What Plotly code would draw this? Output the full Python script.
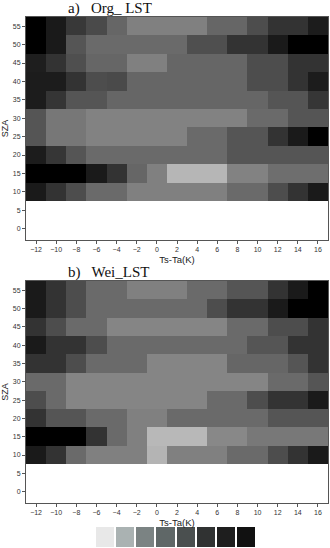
import plotly.graph_objects as go

# Ts-Ta (K) bin centres and SZA bin centres
ts_ta = [-12, -10, -8, -6, -4, -2, 0, 2, 4, 6, 8, 10, 12, 14, 16]
sza = [55, 50, 45, 40, 35, 30, 25, 20, 15, 10]

# grey shade (0 = black, 255 = white) read from each cell, rows follow `sza`
org_lst = [
    [0, 26, 56, 74, 102, 128, 128, 128, 128, 102, 102, 77, 51, 51, 28],
    [0, 26, 85, 106, 106, 106, 106, 106, 79, 79, 51, 51, 26, 0, 0],
    [30, 51, 79, 102, 102, 128, 128, 102, 102, 102, 102, 77, 77, 51, 51],
    [28, 28, 51, 77, 74, 102, 102, 102, 102, 102, 102, 77, 77, 51, 28],
    [28, 53, 85, 85, 102, 102, 102, 102, 102, 102, 102, 102, 85, 85, 54],
    [85, 119, 119, 130, 130, 130, 130, 130, 130, 130, 130, 106, 106, 85, 85],
    [85, 119, 119, 130, 130, 130, 130, 130, 106, 106, 85, 85, 51, 26, 0],
    [28, 54, 85, 106, 106, 106, 106, 106, 106, 106, 85, 85, 85, 85, 85],
    [0, 0, 0, 26, 51, 102, 128, 182, 182, 182, 130, 130, 110, 110, 110],
    [26, 51, 77, 106, 106, 128, 128, 128, 128, 128, 106, 106, 77, 51, 26],
]
wei_lst = [
    [26, 51, 77, 106, 106, 128, 128, 128, 106, 106, 85, 85, 51, 26, 0],
    [26, 51, 77, 106, 106, 106, 106, 106, 106, 77, 51, 51, 26, 0, 0],
    [51, 77, 106, 106, 133, 133, 133, 133, 133, 133, 106, 106, 77, 77, 51],
    [26, 51, 51, 77, 106, 106, 106, 106, 106, 106, 106, 85, 85, 51, 51],
    [51, 51, 77, 106, 106, 106, 133, 133, 133, 133, 102, 102, 102, 85, 51],
    [106, 106, 133, 133, 133, 133, 133, 133, 133, 133, 133, 133, 106, 106, 85],
    [77, 106, 133, 133, 133, 133, 133, 133, 133, 106, 106, 77, 51, 51, 26],
    [51, 85, 85, 106, 106, 128, 128, 106, 106, 106, 106, 106, 85, 85, 85],
    [0, 0, 0, 51, 106, 128, 184, 184, 184, 136, 136, 120, 120, 120, 120],
    [26, 51, 106, 128, 128, 128, 180, 128, 128, 128, 106, 106, 77, 51, 26],
]

x_ticks = [-12, -10, -8, -6, -4, -2, 0, 2, 4, 6, 8, 10, 12, 14, 16]
y_ticks = [0, 5, 10, 15, 20, 25, 30, 35, 40, 45, 50, 55]

legend_levels = [0, 1, 2, 3, 4, 5, 6, 7]
legend_colors = ["#e8e8e8", "#aab2b2", "#7b8383", "#5f6767",
                 "#4a4f4f", "#303232", "#1e1e1e", "#111111"]

titles = ["a)   Org_ LST", "b)   Wei_LST"]

W, H = 330, 548
def px_x(a, b):
    return [a / W, b / W]
def px_y(top, bottom):
    return [1 - bottom / H, 1 - top / H]

fig = go.Figure()
gray = [[0, "#000000"], [1, "#ffffff"]]

panels = [(org_lst, "x", "y", px_y(17, 240)), (wei_lst, "x2", "y2", px_y(281, 503))]
for i, (z, xa, ya, dom) in enumerate(panels):
    fig.add_trace(go.Heatmap(x=ts_ta, y=sza, z=z, xaxis=xa, yaxis=ya,
                             colorscale=gray, zmin=0, zmax=255,
                             showscale=False, hoverinfo="skip"))
    sfx = "" if i == 0 else str(i + 1)
    axis_common = dict(showline=True, linecolor="#555555", linewidth=1, mirror=True,
                       ticks="outside", ticklen=3, tickcolor="#555555",
                       showgrid=False, zeroline=False, automargin=False,
                       tickfont=dict(family="Liberation Sans, Arial", size=7, color="#333333"))
    fig.layout["xaxis" + sfx] = dict(axis_common, domain=px_x(26, 328), range=[-13, 17],
                                     tickvals=x_ticks, anchor="y" + sfx,
                                     title=dict(text="Ts-Ta(K)", standoff=3,
                                                font=dict(family="Liberation Sans, Arial", size=9.5, color="#222222")))
    fig.layout["yaxis" + sfx] = dict(axis_common, domain=dom, range=[-3.1, 57.5],
                                     tickvals=y_ticks, anchor="x" + sfx,
                                     title=dict(text="SZA", standoff=2,
                                                font=dict(family="Liberation Sans, Arial", size=9, color="#222222")))
    fig.add_annotation(text=titles[i], xref="paper", yref="paper",
                       x=66 / W, y=dom[1], xanchor="left", yanchor="bottom", yshift=-2,
                       showarrow=False,
                       font=dict(family="Liberation Serif, Times New Roman", size=15, color="#111111"))

# discrete shade key
fig.add_trace(go.Heatmap(x=legend_levels, y=[0], z=[legend_levels], xaxis="x3", yaxis="y3",
                         colorscale=[[i / 7, c] for i, c in enumerate(legend_colors)],
                         zmin=0, zmax=7, xgap=2, showscale=False, hoverinfo="skip"))
fig.update_layout(
    xaxis3=dict(domain=px_x(95, 256), anchor="y3", visible=False, range=[-0.5, 7.5]),
    yaxis3=dict(domain=px_y(527, 547), anchor="x3", visible=False, range=[-0.5, 0.5]),
)

fig.update_layout(template="none", width=W, height=H, margin=dict(l=0, r=0, t=0, b=0),
                  paper_bgcolor="white", plot_bgcolor="white", showlegend=False)
fig.write_html("out.html")
